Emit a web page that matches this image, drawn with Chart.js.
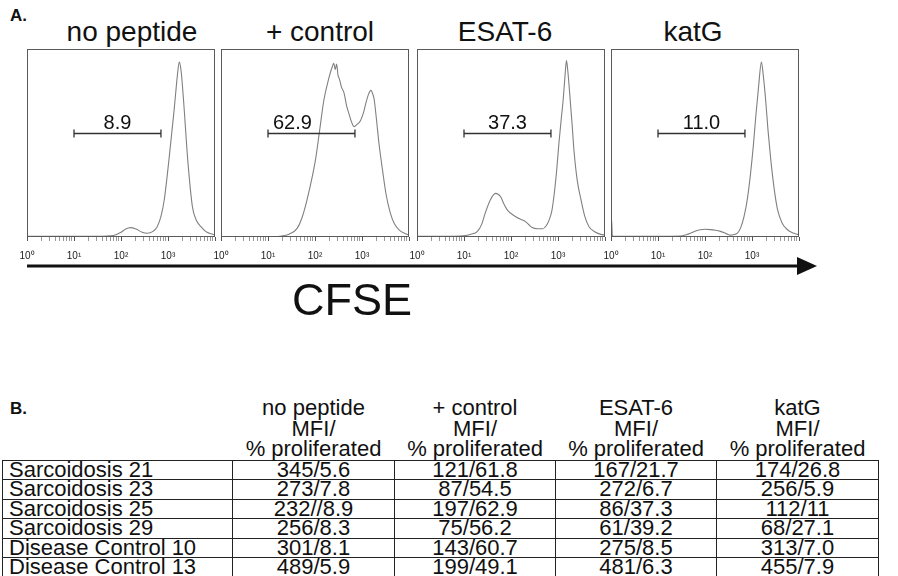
<!DOCTYPE html>
<html>
<head>
<meta charset="utf-8">
<script src="https://cdn.jsdelivr.net/npm/chart.js@4.4.1/dist/chart.umd.min.js"></script>
<style>
  html, body { margin: 0; padding: 0; background: #fff; overflow: hidden; }
  body { width: 898px; height: 576px; position: relative; color: #111;
         font-family: "Liberation Sans", Arial, Helvetica, sans-serif; }
  .tag { position: absolute; font-weight: bold; font-size: 17px; }
  .title { position: absolute; top: 17px; width: 200px; text-align: center; font-size: 28px; line-height: 30px; }
  canvas.panel { position: absolute; top: 40px; }
  .cfse { position: absolute; left: 252px; width: 200px; top: 276px; text-align: center; font-size: 45px; line-height: 48px; }
  table.tab { position: absolute; left: 2px; top: 398px; border-collapse: collapse; table-layout: fixed; font-size: 22px; }
  table.tab th { font-weight: normal; height: 20.5px; line-height: 20.5px; padding: 0; text-align: center; white-space: nowrap; }
  table.tab td { border: 1px solid #222; height: 18.5px; line-height: 18.5px; padding: 0; text-align: center; white-space: nowrap; }
  table.tab td.name { text-align: left; padding-left: 6px; }
</style>
</head>
<body>
<div class="tag" style="left:10px;top:6px;">A.</div>
<div id="titles"></div>
<div id="panels"></div>
<svg style="position:absolute;left:0;top:250px" width="898" height="30">
  <line x1="27" y1="16" x2="802" y2="16" stroke="#111" stroke-width="3"/>
  <polygon points="797,7 817,16 797,25" fill="#111"/>
</svg>
<div class="cfse">CFSE</div>
<div class="tag" style="left:10px;top:399px;">B.</div>
<table class="tab" id="tab"></table>

<script>
// Panel names (also the table's column heads)
const categories = ["no peptide", "+ control", "ESAT-6", "katG"];
// % of cells inside the proliferation gate, one per panel
const gateValues = ["8.9", "62.9", "37.3", "11.0"];
// gate limits on the CFSE axis, in decades (10^1 .. ~10^2.85)
const gateRange = [1.0, 2.85];
const tickLabels = ["10\u2070", "10\u00b9", "10\u00b2", "10\u00b3"];

// histogram traces: [log10 CFSE, % of panel height]
const noPeptideCurve = [
  [0, 0.4], [0.5, 0.4], [1, 0.4], [1.5, 0.4], [1.84, 0.8], [2.0, 2.5], [2.1, 4.2], [2.2, 5],
  [2.32, 4.2], [2.45, 2.5], [2.56, 2], [2.68, 3], [2.77, 5.5], [2.85, 11], [2.92, 19.7],
  [3.02, 41], [3.13, 67.5], [3.2, 86], [3.24, 93], [3.28, 88], [3.33, 73], [3.42, 41],
  [3.52, 16], [3.6, 9], [3.7, 5.5], [3.8, 3], [3.88, 2], [3.95, 1.5], [4, 1],
];
const plusControlCurve = [
  [0, 0], [1.0, 0], [1.26, 0.4], [1.45, 1.5], [1.62, 4.6], [1.72, 10], [1.83, 19.7], [2.01, 41],
  [2.1, 57], [2.19, 73], [2.3, 85], [2.36, 90], [2.4, 92.4], [2.43, 89], [2.46, 92], [2.49, 86],
  [2.52, 84], [2.56, 80], [2.62, 76.4], [2.67, 70], [2.72, 65.8], [2.78, 61], [2.83, 58.7],
  [2.9, 60], [2.97, 62], [3.03, 66], [3.08, 71], [3.14, 76], [3.19, 78], [3.23, 76], [3.26, 73],
  [3.31, 62], [3.36, 50], [3.44, 35], [3.51, 23], [3.6, 13], [3.69, 7], [3.8, 3.5], [3.9, 2], [4, 1],
];
const esatCurve = [
  [0, 0.4], [0.8, 0.4], [0.99, 0.6], [1.15, 1.5], [1.28, 2.8], [1.38, 7], [1.45, 12.6], [1.56, 19.7],
  [1.67, 23.2], [1.78, 21.4], [1.85, 17.5], [1.92, 14.4], [2.0, 12.5], [2.1, 10.8], [2.2, 9.5],
  [2.31, 8.2], [2.38, 6.5], [2.45, 5], [2.56, 4.4], [2.67, 4.4], [2.75, 6], [2.81, 9], [2.87, 14],
  [2.92, 23], [2.97, 35], [3.02, 50], [3.07, 63], [3.11, 73], [3.15, 86], [3.18, 93.8], [3.21, 88],
  [3.25, 76], [3.3, 60], [3.34, 46], [3.41, 30], [3.49, 19.7], [3.57, 11], [3.66, 5.5], [3.78, 2.8],
  [3.91, 1.4], [4, 1],
];
const katGCurve = [
  [0, 0.4], [0.01, 10], [0.03, 0.5], [0.5, 0.4], [1, 0.4], [1.48, 0.5], [1.6, 1.2], [1.69, 2],
  [1.8, 3.2], [1.9, 3.9], [2.0, 4.1], [2.12, 3.9], [2.22, 3.6], [2.33, 3], [2.45, 1.8], [2.55, 1],
  [2.62, 1.3], [2.69, 2], [2.76, 5], [2.83, 10.8], [2.9, 20], [2.97, 34], [3.03, 49], [3.08, 64],
  [3.14, 80], [3.2, 93], [3.24, 86], [3.29, 73], [3.34, 57], [3.4, 41], [3.47, 26], [3.54, 15],
  [3.64, 7.5], [3.75, 4], [3.86, 2.2], [3.97, 1.4], [4, 1.2],
];
const curves = [noPeptideCurve, plusControlCurve, esatCurve, katGCurve];

// table B
const subjects = ["Sarcoidosis 21", "Sarcoidosis 23", "Sarcoidosis 25", "Sarcoidosis 29",
                  "Disease Control 10", "Disease Control 13"];
const noPeptideMfi = ["345/5.6", "273/7.8", "232//8.9", "256/8.3", "301/8.1", "489/5.9"];
const plusControlMfi = ["121/61.8", "87/54.5", "197/62.9", "75/56.2", "143/60.7", "199/49.1"];
const esatMfi = ["167/21.7", "272/6.7", "86/37.3", "61/39.2", "275/8.5", "481/6.3"];
const katGMfi = ["174/26.8", "256/5.9", "112/11", "68/27.1", "313/7.0", "455/7.9"];

const PANEL_LEFT = [27, 221, 417, 611];
const TITLE_CENTER = [132, 320, 505, 693];
const PANEL_W = 188;
const PAD = 20;
const GATE_LEVEL = 55.3;          // bar height, % of panel
const LABEL_ALIGN = ["center", "left", "center", "center"];
const FONT = '"Liberation Sans", Arial, Helvetica, sans-serif';

// decade ticks plus the 2..9 minor ticks of a log axis
const majorTicks = [0, 1, 2, 3, 4];
const tickValues = majorTicks.slice();
for (let d = 0; d < 4; d++) for (let k = 2; k <= 9; k++) tickValues.push(d + Math.log10(k));

const panelDecor = {
  id: "panelDecor",
  afterDatasetsDraw(chart, args, o) {
    const { ctx, chartArea: a, scales: { x, y } } = chart;
    ctx.save();
    ctx.strokeStyle = "#5a5a5a";
    ctx.lineWidth = 1;
    ctx.strokeRect(a.left + 0.5, a.top + 0.5, a.width - 1, a.height - 1);

    const x1 = x.getPixelForValue(o.from);
    const x2 = x.getPixelForValue(o.to);
    const yy = Math.round(y.getPixelForValue(o.level)) + 0.5;
    ctx.strokeStyle = "#333";
    ctx.lineWidth = 1.3;
    ctx.beginPath();
    ctx.moveTo(x1, yy); ctx.lineTo(x2, yy);
    ctx.moveTo(x1, yy - 4); ctx.lineTo(x1, yy + 4);
    ctx.moveTo(x2, yy - 4); ctx.lineTo(x2, yy + 4);
    ctx.stroke();

    ctx.fillStyle = "#111";
    ctx.font = `20px ${FONT}`;
    ctx.textBaseline = "alphabetic";
    if (o.align === "left") {
      ctx.textAlign = "left";
      ctx.fillText(o.label, x1 + 5, yy - 5);
    } else {
      ctx.textAlign = "center";
      ctx.fillText(o.label, (x1 + x2) / 2, yy - 5);
    }
    ctx.restore();
  },
};

const titles = document.getElementById("titles");
const panels = document.getElementById("panels");

categories.forEach((name, i) => {
  const t = document.createElement("div");
  t.className = "title";
  t.style.left = (TITLE_CENTER[i] - 100) + "px";
  t.textContent = name;
  titles.appendChild(t);

  const c = document.createElement("canvas");
  c.className = "panel";
  c.width = PANEL_W + 2 * PAD;
  c.height = 9 + 188 + 30;
  c.style.left = (PANEL_LEFT[i] - PAD) + "px";
  panels.appendChild(c);

  new Chart(c, {
    type: "line",
    data: {
      datasets: [{
        data: curves[i].map(([x, y]) => ({ x, y })),
        borderColor: "#808080",
        borderWidth: 1.1,
        pointRadius: 0,
        cubicInterpolationMode: "monotone",
        fill: false,
      }],
    },
    options: {
      animation: false,
      responsive: false,
      maintainAspectRatio: false,
      layout: { padding: { left: PAD, right: PAD, top: 9, bottom: 0 } },
      plugins: {
        legend: { display: false },
        tooltip: { enabled: false },
        panelDecor: { from: gateRange[0], to: gateRange[1], level: GATE_LEVEL,
                      label: gateValues[i], align: LABEL_ALIGN[i] },
      },
      scales: {
        x: {
          type: "linear", min: 0, max: 4,
          afterBuildTicks: (s) => { s.ticks = tickValues.map((v) => ({ value: v })); },
          afterFit: (s) => { s.height = 30; },
          border: { display: false },
          grid: {
            drawOnChartArea: false, drawTicks: true, tickLength: 4, tickWidth: 1,
            tickColor: (ctx) => (Number.isInteger(ctx.tick && ctx.tick.value) ? "#555" : "#999"),
          },
          ticks: {
            autoSkip: false, maxRotation: 0, padding: 9, color: "#222",
            font: { size: 10, family: FONT },
            callback: (v) => (Number.isInteger(v) && v < 4 ? tickLabels[v] : ""),
          },
        },
        y: { display: false, min: 0, max: 100 },
      },
    },
    plugins: [panelDecor],
  });
});

// table B
const cols = [noPeptideMfi, plusControlMfi, esatMfi, katGMfi];
const widths = [230, 162, 161, 161, 162];
let html = "<colgroup>" + widths.map((w) => `<col style="width:${w}px">`).join("") + "</colgroup><thead>";
html += "<tr><th></th>" + categories.map((c) => `<th>${c}</th>`).join("") + "</tr>";
html += "<tr><th></th>" + categories.map(() => "<th>MFI/</th>").join("") + "</tr>";
html += "<tr><th></th>" + categories.map(() => "<th>% proliferated</th>").join("") + "</tr></thead><tbody>";
subjects.forEach((s, r) => {
  html += `<tr><td class="name">${s}</td>` + cols.map((col) => `<td>${col[r]}</td>`).join("") + "</tr>";
});
html += "</tbody>";
document.getElementById("tab").innerHTML = html;
</script>
</body>
</html>
